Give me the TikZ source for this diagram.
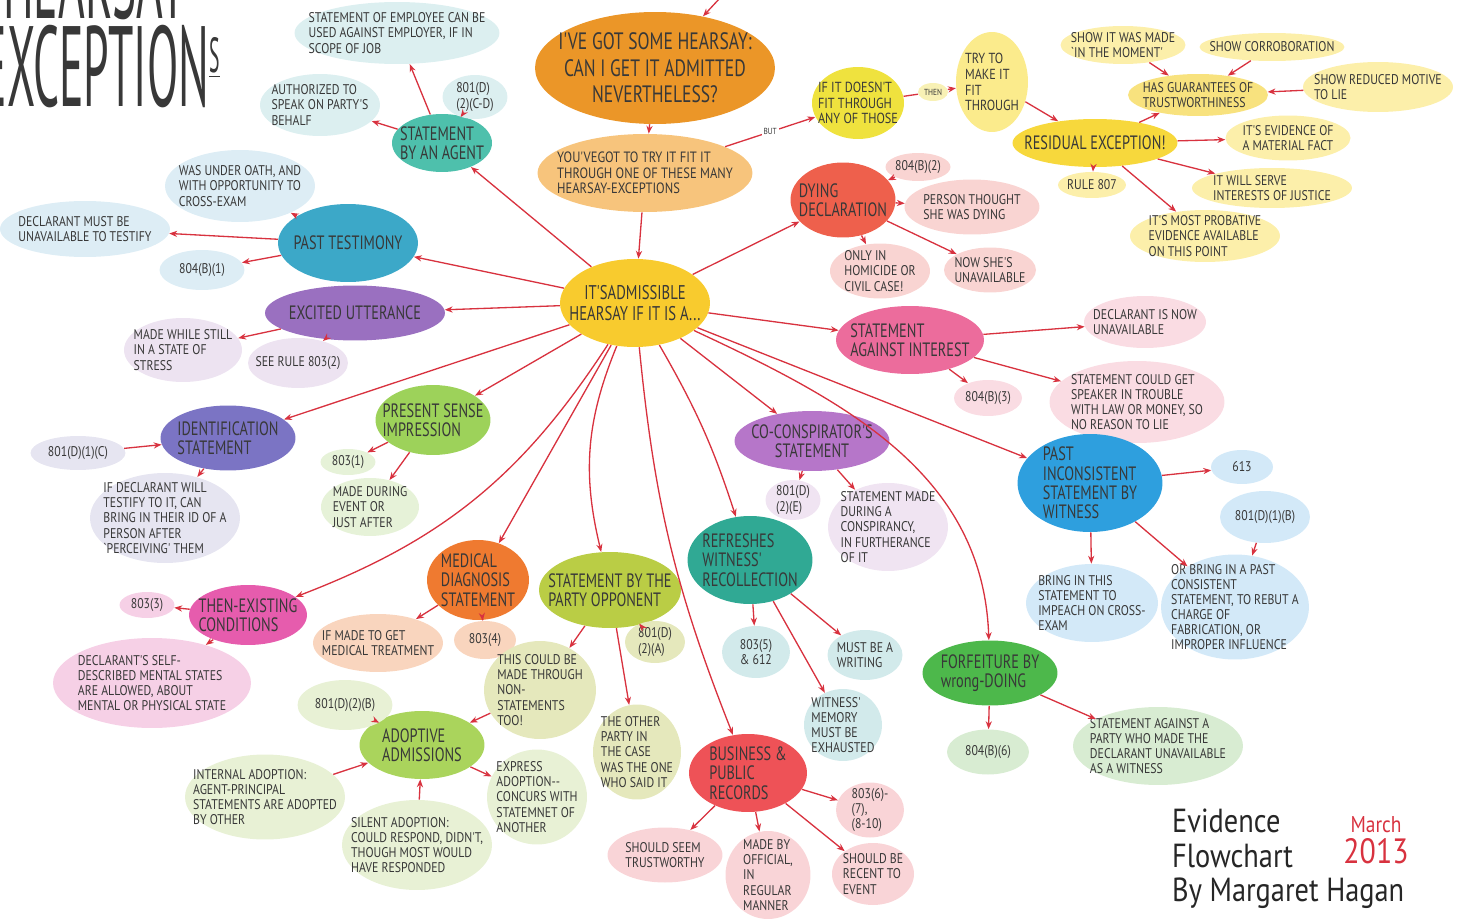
\documentclass[tikz,border=0pt]{standalone}
\usepackage{fontspec}
\newfontfamily\hand[FakeStretch=0.84]{PT Sans}
\newfontfamily\handtopic[FakeStretch=0.74]{PT Sans}
\newfontfamily\titlefont[FakeStretch=0.4]{PT Sans}
\newfontfamily\signfont[FakeStretch=0.85]{PT Sans}
\usetikzlibrary{shapes.geometric, arrows.meta}

\definecolor{EvRed}{HTML}{D8323F}
\definecolor{EvText}{HTML}{383838}
\definecolor{EvQuestion}{HTML}{EB9628}
\definecolor{EvTry}{HTML}{F7C47C}
\definecolor{EvHub}{HTML}{F8CB2E}
\definecolor{EvNoFit}{HTML}{EFE23E}
\definecolor{EvTryFit}{HTML}{FBEB8C}
\definecolor{EvThen}{HTML}{F8F1B5}
\definecolor{EvResidual}{HTML}{F7D83C}
\definecolor{EvGuarantee}{HTML}{F8E27E}
\definecolor{EvResidualNote}{HTML}{FCEFAA}
\definecolor{EvAgent}{HTML}{4EC0AC}
\definecolor{EvAgentNote}{HTML}{DCEFF0}
\definecolor{EvPast}{HTML}{3CA8C8}
\definecolor{EvPastNote}{HTML}{DDEDF5}
\definecolor{EvExcited}{HTML}{9A70C0}
\definecolor{EvExcitedNote}{HTML}{EDE3F1}
\definecolor{EvIdent}{HTML}{7B74C4}
\definecolor{EvIdentNote}{HTML}{E6E5F1}
\definecolor{EvPresent}{HTML}{9DD25A}
\definecolor{EvPresentNote}{HTML}{E6F2D8}
\definecolor{EvMedical}{HTML}{EF7A30}
\definecolor{EvMedicalNote}{HTML}{F9D5BE}
\definecolor{EvThenEx}{HTML}{E65CAD}
\definecolor{EvThenExNote}{HTML}{F6D0E6}
\definecolor{EvOpponent}{HTML}{BACD45}
\definecolor{EvOpponentNote}{HTML}{E5E8BC}
\definecolor{EvAdoptive}{HTML}{AAD45C}
\definecolor{EvAdoptiveNote}{HTML}{E8F1D5}
\definecolor{EvBusiness}{HTML}{EE5257}
\definecolor{EvBusinessNote}{HTML}{F9D4D7}
\definecolor{EvRefresh}{HTML}{30A994}
\definecolor{EvRefreshNote}{HTML}{D2EAEB}
\definecolor{EvCoCon}{HTML}{B676C9}
\definecolor{EvCoConNote}{HTML}{F0E4F2}
\definecolor{EvAgainst}{HTML}{EC6C9C}
\definecolor{EvAgainstNote}{HTML}{FADCE3}
\definecolor{EvPastInc}{HTML}{2E9FDE}
\definecolor{EvPastIncNote}{HTML}{D3E9F8}
\definecolor{EvDying}{HTML}{EE604C}
\definecolor{EvDyingNote}{HTML}{F9D4D2}
\definecolor{EvForfeit}{HTML}{4DB84B}
\definecolor{EvForfeitNote}{HTML}{D8ECD2}

\tikzset{
    % watercolour blobs, text sits in a centred label
    blob/.style={
        ellipse,
        inner sep=0pt,
        draw=none
    },
    topic text/.style={
        font=\handtopic\fontsize{11}{11}\selectfont,
        text=EvText,
        align=left,
        inner sep=0pt
    },
    note text/.style={
        font=\hand\fontsize{8}{8.6}\selectfont,
        text=EvText,
        align=left,
        inner sep=0pt
    },
    title text/.style={
        font=\titlefont\fontsize{65}{50}\selectfont,
        text=EvText,
        align=right,
        inner sep=0pt
    },
    arrow style/.style={
        -{Stealth[length=4.5pt, width=3.5pt]},
        line width=0.75pt,
        EvRed
    }
}

\begin{document}
\begin{tikzpicture}[x=0.02cm, y=0.02cm]
        \useasboundingbox (0, 0) rectangle (1461, -919);
        \clip (0, 0) rectangle (1461, -919);

        % Title (cut by the page edge)
        \node[title text, anchor=south east] (title) at (220, -108) {HEARSAY\hspace*{0.68cm}\\EXCEPTION\raisebox{19pt}{\fontsize{28}{28}\selectfont\underline{S}}};

        % Question and main route
        \node[blob, fill=EvQuestion, minimum width=4.8cm, minimum height=2.24cm,
            label={[topic text, font=\handtopic\fontsize{13.5}{15}\selectfont, align=center]center:{I'VE GOT SOME HEARSAY:\\CAN I GET IT ADMITTED\\NEVERTHELESS?}}] (question) at (655, -68) {};
        \coordinate (questionin) at (720, 2);
        \node[blob, fill=EvTry, minimum width=4.3cm, minimum height=1.56cm,
            label={[note text, font=\hand\fontsize{8.5}{8.8}\selectfont]center:{YOU'VEGOT TO TRY IT FIT IT\\THROUGH ONE OF THESE MANY\\HEARSAY-EXCEPTIONS}}] (try) at (645, -173) {};
        \node[blob, fill=EvHub, minimum width=3cm, minimum height=1.76cm,
            label={[topic text, font=\handtopic\fontsize{11.3}{12}\selectfont, align=center]center:{IT'SADMISSIBLE\\HEARSAY IF IT IS A...}}] (hub) at (635, -303) {};

        % Residual exception
        \node[blob, fill=EvNoFit, minimum width=1.84cm, minimum height=1.44cm,
            label={[note text, font=\hand\fontsize{8.3}{9}\selectfont]center:{IF IT DOESN'T\\FIT THROUGH\\ANY OF THOSE}}] (nofit) at (858, -103) {};
        \node[blob, fill=EvThen, minimum width=0.6cm, minimum height=0.36cm,
            label={[note text, font=\hand\fontsize{5}{5}\selectfont]center:THEN}] (thenlbl) at (933, -92) {};
        \node[blob, fill=EvTryFit, minimum width=1.44cm, minimum height=2cm,
            label={[note text, font=\hand\fontsize{8.3}{9}\selectfont]center:{TRY TO\\MAKE IT\\FIT\\THROUGH}}] (tryfit) at (992, -82) {};
        \node[blob, fill=EvResidual, minimum width=3.3cm, minimum height=0.96cm,
            label={[topic text]center:{RESIDUAL EXCEPTION!}}] (residual) at (1095, -143) {};
        \node[blob, fill=EvGuarantee, minimum width=2.8cm, minimum height=0.84cm,
            label={[note text]center:{HAS GUARANTEES OF\\TRUSTWORTHINESS}}] (guarantee) at (1198, -95) {};
        \node[blob, fill=EvResidualNote, minimum width=2.5cm, minimum height=0.76cm,
            label={[note text]center:{SHOW IT WAS MADE\\`IN THE MOMENT'}}] (moment) at (1123, -45) {};
        \node[blob, fill=EvResidualNote, minimum width=2.9cm, minimum height=0.56cm,
            label={[note text]center:{SHOW CORROBORATION}}] (corrob) at (1272, -47) {};
        \node[blob, fill=EvResidualNote, minimum width=3cm, minimum height=1cm,
            label={[note text]center:{SHOW REDUCED MOTIVE\\TO LIE}}] (motive) at (1378, -87) {};
        \node[blob, fill=EvResidualNote, minimum width=2.5cm, minimum height=0.9cm,
            label={[note text]center:{IT'S EVIDENCE OF\\A MATERIAL FACT}}] (material) at (1288, -138) {};
        \node[blob, fill=EvResidualNote, minimum width=3.2cm, minimum height=0.8cm,
            label={[note text]center:{IT WILL SERVE\\INTERESTS OF JUSTICE}}] (justice) at (1272, -188) {};
        \node[blob, fill=EvResidualNote, minimum width=3cm, minimum height=1.04cm,
            label={[note text]center:{IT'S MOST PROBATIVE\\EVIDENCE AVAILABLE\\ON THIS POINT}}] (probative) at (1205, -236) {};
        \node[blob, fill=EvResidualNote, minimum width=1.36cm, minimum height=0.52cm,
            label={[note text]center:{RULE 807}}] (rule807) at (1092, -185) {};

        % Statement by an agent
        \node[blob, fill=EvAgent, minimum width=2cm, minimum height=1.16cm,
            label={[topic text]center:{STATEMENT\\BY AN AGENT}}] (agent) at (442, -143) {};
        \node[blob, fill=EvAgentNote, minimum width=4.1cm, minimum height=1.24cm,
            label={[note text]center:{STATEMENT OF EMPLOYEE CAN BE\\USED AGAINST EMPLOYER, IF IN\\SCOPE OF JOB}}] (employee) at (397, -33) {};
        \node[blob, fill=EvAgentNote, minimum width=2.4cm, minimum height=1.24cm,
            label={[note text]center:{AUTHORIZED TO\\SPEAK ON PARTY'S\\BEHALF}}] (authorized) at (320, -105) {};
        \node[blob, fill=EvAgentNote, minimum width=1.3cm, minimum height=0.88cm,
            label={[note text]center:{801(D)\\(2)(C-D)}}] (agentrule) at (475, -97) {};

        % Past testimony
        \node[blob, fill=EvPast, minimum width=2.8cm, minimum height=1.56cm,
            label={[topic text]center:{PAST TESTIMONY}}] (past) at (348, -243) {};
        \node[blob, fill=EvPastNote, minimum width=3cm, minimum height=1.44cm,
            label={[note text]center:{WAS UNDER OATH, AND\\WITH OPPORTUNITY TO\\CROSS-EXAM}}] (oath) at (240, -186) {};
        \node[blob, fill=EvPastNote, minimum width=3.4cm, minimum height=1.12cm,
            label={[note text]center:{DECLARANT MUST BE\\UNAVAILABLE TO TESTIFY}}] (unavail) at (85, -229) {};
        \node[blob, fill=EvPastNote, minimum width=1.7cm, minimum height=0.8cm,
            label={[note text]center:{804(B)(1)}}] (r8041) at (202, -270) {};

        % Excited utterance
        \node[blob, fill=EvExcited, minimum width=3.6cm, minimum height=1.1cm,
            label={[topic text]center:{EXCITED UTTERANCE}}] (excited) at (355, -313) {};
        \node[blob, fill=EvExcitedNote, minimum width=2.36cm, minimum height=1.28cm,
            label={[note text]center:{MADE WHILE STILL\\IN A STATE OF\\STRESS}}] (stress) at (183, -350) {};
        \node[blob, fill=EvExcitedNote, minimum width=2cm, minimum height=1cm,
            label={[note text]center:{SEE RULE 803(2)}}] (r8032) at (298, -363) {};

        % Identification statement
        \node[blob, fill=EvIdent, minimum width=2.7cm, minimum height=1.3cm,
            label={[topic text]center:{IDENTIFICATION\\STATEMENT}}] (ident) at (228, -438) {};
        \node[blob, fill=EvIdentNote, minimum width=1.9cm, minimum height=0.68cm,
            label={[note text]center:{801(D)(1)(C)}}] (r801c) at (78, -453) {};
        \node[blob, fill=EvIdentNote, minimum width=3cm, minimum height=1.8cm,
            label={[note text]center:{IF DECLARANT WILL\\TESTIFY TO IT, CAN\\BRING IN THEIR ID OF A\\PERSON AFTER\\`PERCEIVING' THEM}}] (testify) at (165, -518) {};

        % Present sense impression
        \node[blob, fill=EvPresent, minimum width=2.3cm, minimum height=1.4cm,
            label={[topic text]center:{PRESENT SENSE\\IMPRESSION}}] (present) at (433, -420) {};
        \node[blob, fill=EvPresentNote, minimum width=1.1cm, minimum height=0.52cm,
            label={[note text]center:{803(1)}}] (r8031) at (348, -462) {};
        \node[blob, fill=EvPresentNote, minimum width=1.96cm, minimum height=1.16cm,
            label={[note text]center:{MADE DURING\\EVENT OR\\JUST AFTER}}] (during) at (370, -507) {};

        % Medical diagnosis
        \node[blob, fill=EvMedical, minimum width=2.04cm, minimum height=1.6cm,
            label={[topic text]center:{MEDICAL\\DIAGNOSIS\\STATEMENT}}] (medical) at (478, -580) {};
        \node[blob, fill=EvMedicalNote, minimum width=2.6cm, minimum height=1.16cm,
            label={[note text]center:{IF MADE TO GET\\MEDICAL TREATMENT}}] (treat) at (378, -643) {};
        \node[blob, fill=EvMedicalNote, minimum width=1.24cm, minimum height=0.76cm,
            label={[note text]center:{803(4)}}] (r8034) at (485, -640) {};

        % Then-existing conditions
        \node[blob, fill=EvThenEx, minimum width=2.36cm, minimum height=1.2cm,
            label={[topic text]center:{THEN-EXISTING\\CONDITIONS}}] (thenex) at (248, -615) {};
        \node[blob, fill=EvThenExNote, minimum width=1.1cm, minimum height=0.52cm,
            label={[note text]center:{803(3)}}] (r8033) at (147, -605) {};
        \node[blob, fill=EvThenExNote, minimum width=3.96cm, minimum height=1.8cm,
            label={[note text]center:{DECLARANT'S SELF-\\DESCRIBED MENTAL STATES\\ARE ALLOWED, ABOUT\\MENTAL OR PHYSICAL STATE}}] (selfdesc) at (152, -683) {};

        % Statement by the party opponent
        \node[blob, fill=EvOpponent, minimum width=2.84cm, minimum height=1.52cm,
            label={[topic text]center:{STATEMENT BY THE\\PARTY OPPONENT}}] (opponent) at (610, -590) {};
        \node[blob, fill=EvOpponentNote, minimum width=1.2cm, minimum height=0.84cm,
            label={[note text]center:{801(D)\\(2)(A)}}] (r801a) at (655, -642) {};
        \node[blob, fill=EvOpponentNote, minimum width=2.24cm, minimum height=1.96cm,
            label={[note text]center:{THIS COULD BE\\MADE THROUGH\\NON-\\STATEMENTS\\TOO!}}] (nonstmt) at (540, -690) {};
        \node[blob, fill=EvOpponentNote, minimum width=1.76cm, minimum height=1.9cm,
            label={[note text]center:{THE OTHER\\PARTY IN\\THE CASE\\WAS THE ONE\\WHO SAID IT}}] (other) at (637, -752) {};

        % Adoptive admissions
        \node[blob, fill=EvAdoptive, minimum width=2.5cm, minimum height=1.36cm,
            label={[topic text]center:{ADOPTIVE\\ADMISSIONS}}] (adoptive) at (422, -745) {};
        \node[blob, fill=EvAdoptiveNote, minimum width=1.9cm, minimum height=1cm,
            label={[note text]center:{801(D)(2)(B)}}] (r801b) at (345, -705) {};
        \node[blob, fill=EvAdoptiveNote, minimum width=3.2cm, minimum height=1.7cm,
            label={[note text]center:{INTERNAL ADOPTION:\\AGENT-PRINCIPAL\\STATEMENTS ARE ADOPTED\\BY OTHER}}] (internal) at (265, -797) {};
        \node[blob, fill=EvAdoptiveNote, minimum width=3cm, minimum height=1.8cm,
            label={[note text]center:{SILENT ADOPTION:\\COULD RESPOND, DIDN'T,\\THOUGH MOST WOULD\\HAVE RESPONDED}}] (silent) at (417, -845) {};
        \node[blob, fill=EvAdoptiveNote, minimum width=2cm, minimum height=1.9cm,
            label={[note text]center:{EXPRESS\\ADOPTION--\\CONCURS WITH\\STATEMNET OF\\ANOTHER}}] (express) at (537, -797) {};

        % Business and public records
        \node[blob, fill=EvBusiness, minimum width=2.36cm, minimum height=1.56cm,
            label={[topic text]center:{BUSINESS \&\\PUBLIC\\RECORDS}}] (business) at (748, -773) {};
        \node[blob, fill=EvBusinessNote, minimum width=2.3cm, minimum height=1.1cm,
            label={[note text]center:{SHOULD SEEM\\TRUSTWORTHY}}] (trust) at (665, -855) {};
        \node[blob, fill=EvBusinessNote, minimum width=1.7cm, minimum height=1.76cm,
            label={[note text]center:{MADE BY\\OFFICIAL,\\IN\\REGULAR\\MANNER}}] (official) at (768, -875) {};
        \node[blob, fill=EvBusinessNote, minimum width=1.64cm, minimum height=1.24cm,
            label={[note text]center:{SHOULD BE\\RECENT TO\\EVENT}}] (recent) at (873, -874) {};
        \node[blob, fill=EvBusinessNote, minimum width=1.36cm, minimum height=1.1cm,
            label={[note text]center:{803(6)-\\(7),\\(8-10)}}] (r8036) at (870, -810) {};

        % Refreshes witness' recollection
        \node[blob, fill=EvRefresh, minimum width=2.5cm, minimum height=1.76cm,
            label={[topic text]center:{REFRESHES\\WITNESS'\\RECOLLECTION}}] (refresh) at (750, -560) {};
        \node[blob, fill=EvRefreshNote, minimum width=1.36cm, minimum height=1.04cm,
            label={[note text]center:{803(5)\\\& 612}}] (r8035) at (756, -652) {};
        \node[blob, fill=EvRefreshNote, minimum width=1.5cm, minimum height=1cm,
            label={[note text]center:{MUST BE A\\WRITING}}] (writing) at (865, -655) {};
        \node[blob, fill=EvRefreshNote, minimum width=1.56cm, minimum height=1.44cm,
            label={[note text]center:{WITNESS'\\MEMORY\\MUST BE\\EXHAUSTED}}] (memory) at (843, -725) {};

        % Co-conspirator's statement
        \node[blob, fill=EvCoCon, minimum width=3.1cm, minimum height=1.2cm,
            label={[topic text, align=center]center:{CO-CONSPIRATOR'S\\STATEMENT}}] (cocon) at (812, -441) {};
        \node[blob, fill=EvCoConNote, minimum width=1.1cm, minimum height=0.8cm,
            label={[note text]center:{801(D)\\(2)(E)}}] (r801e) at (793, -500) {};
        \node[blob, fill=EvCoConNote, minimum width=2.4cm, minimum height=1.76cm,
            label={[note text]center:{STATEMENT MADE\\DURING A\\CONSPIRANCY,\\IN FURTHERANCE\\OF IT}}] (conspiracy) at (888, -527) {};

        % Statement against interest
        \node[blob, fill=EvAgainst, minimum width=2.96cm, minimum height=1.36cm,
            label={[topic text]center:{STATEMENT\\AGAINST INTEREST}}] (against) at (910, -340) {};
        \node[blob, fill=EvAgainstNote, minimum width=2.44cm, minimum height=1.04cm,
            label={[note text]center:{DECLARANT IS NOW\\UNAVAILABLE}}] (nowunavail) at (1145, -322) {};
        \node[blob, fill=EvAgainstNote, minimum width=3.5cm, minimum height=1.64cm,
            label={[note text]center:{STATEMENT COULD GET\\SPEAKER IN TROUBLE\\WITH LAW OR MONEY, SO\\NO REASON TO LIE}}] (trouble) at (1137, -402) {};
        \node[blob, fill=EvAgainstNote, minimum width=1.36cm, minimum height=0.72cm,
            label={[note text]center:{804(B)(3)}}] (r8043) at (988, -398) {};

        % Past inconsistent statement
        \node[blob, fill=EvPastInc, minimum width=2.9cm, minimum height=1.96cm,
            label={[topic text]center:{PAST\\INCONSISTENT\\STATEMENT BY\\WITNESS}}] (pastinc) at (1090, -483) {};
        \node[blob, fill=EvPastIncNote, minimum width=1.24cm, minimum height=0.68cm,
            label={[note text]center:{613}}] (r613) at (1242, -467) {};
        \node[blob, fill=EvPastIncNote, minimum width=1.8cm, minimum height=1.04cm,
            label={[note text]center:{801(D)(1)(B)}}] (r801b1) at (1265, -517) {};
        \node[blob, fill=EvPastIncNote, minimum width=2.64cm, minimum height=1.56cm,
            label={[note text]center:{BRING IN THIS\\STATEMENT TO\\IMPEACH ON CROSS-\\EXAM}}] (impeach) at (1092, -603) {};
        \node[blob, fill=EvPastIncNote, minimum width=2.96cm, minimum height=2.1cm,
            label={[note text]center:{OR BRING IN A PAST\\CONSISTENT\\STATEMENT, TO REBUT A\\CHARGE OF\\FABRICATION, OR\\IMPROPER INFLUENCE}}] (consist) at (1235, -607) {};

        % Dying declaration
        \node[blob, fill=EvDying, minimum width=2.1cm, minimum height=1.5cm,
            label={[topic text]center:{DYING\\DECLARATION}}] (dying) at (843, -200) {};
        \node[blob, fill=EvDyingNote, minimum width=1.3cm, minimum height=0.56cm,
            label={[note text]center:{804(B)(2)}}] (r8042) at (918, -167) {};
        \node[blob, fill=EvDyingNote, minimum width=2.7cm, minimum height=1.1cm,
            label={[note text]center:{PERSON THOUGHT\\SHE WAS DYING}}] (thought) at (972, -207) {};
        \node[blob, fill=EvDyingNote, minimum width=2cm, minimum height=1.1cm,
            label={[note text]center:{ONLY IN\\HOMICIDE OR\\CIVIL CASE!}}] (homicide) at (880, -271) {};
        \node[blob, fill=EvDyingNote, minimum width=1.84cm, minimum height=0.9cm,
            label={[note text]center:{NOW SHE'S\\UNAVAILABLE}}] (now) at (990, -270) {};

        % Forfeiture by wrong-doing
        \node[blob, fill=EvForfeit, minimum width=2.7cm, minimum height=1.3cm,
            label={[topic text]center:{FORFEITURE BY\\wrong-DOING}}] (forfeit) at (990, -673) {};
        \node[blob, fill=EvForfeitNote, minimum width=1.64cm, minimum height=0.9cm,
            label={[note text]center:{804(B)(6)}}] (r8046) at (988, -752) {};
        \node[blob, fill=EvForfeitNote, minimum width=3.4cm, minimum height=1.56cm,
            label={[note text]center:{STATEMENT AGAINST A\\PARTY WHO MADE THE\\DECLARANT UNAVAILABLE\\AS A WITNESS}}] (witness) at (1158, -746) {};

        % Signature
        \node[anchor=north west, font=\signfont\fontsize{19}{19.5}\selectfont, align=left, text=black!85] (signature) at (1166, -803) {Evidence\\Flowchart\\By Margaret Hagan};
        \node[font=\signfont, align=center, text=EvRed] (date) at (1376, -840) {{\fontsize{13}{13}\selectfont March}\\[2pt]{\fontsize{20}{20}\selectfont 2013}};

        % Arrows: main route
        \draw[arrow style] (questionin) -- (question);
        \draw[arrow style] (question) -- (try);
        \draw[arrow style] (try) -- (hub);
        \draw[arrow style] (try) -- node[fill=white, inner sep=1pt, font=\hand\fontsize{5}{5}\selectfont, text=EvText] {BUT} (nofit);
        \draw[arrow style] (nofit) -- (thenlbl) -- (tryfit);
        \draw[arrow style] (tryfit) -- (residual);
        \draw[arrow style] (residual) -- (guarantee);
        \draw[arrow style] (moment) -- (guarantee);
        \draw[arrow style] (corrob) -- (guarantee);
        \draw[arrow style] (motive) -- (guarantee);
        \draw[arrow style] (residual) -- (material);
        \draw[arrow style] (residual) -- (justice);
        \draw[arrow style] (residual) -- (probative);
        \draw[arrow style] (residual) -- (rule807);

        % Arrows: from the hub
        \draw[arrow style] (hub) -- (agent);
        \draw[arrow style] (hub) -- (past);
        \draw[arrow style] (hub) -- (excited);
        \draw[arrow style] (hub) -- (ident);
        \draw[arrow style] (hub) -- (present);
        \draw[arrow style] (hub) to[bend left=18] (thenex);
        \draw[arrow style] (hub) -- (medical);
        \draw[arrow style] (hub) to[bend right=18] (opponent);
        \draw[arrow style] (hub) to[bend right=8] (business);
        \draw[arrow style] (hub) to[bend left=6] (refresh);
        \draw[arrow style] (hub) -- (cocon);
        \draw[arrow style] (hub) -- (against);
        \draw[arrow style] (hub) -- (pastinc);
        \draw[arrow style] (hub) -- (dying);
        \draw[arrow style] (hub) to[out=-25, in=92] (forfeit);

        % Arrows: details
        \draw[arrow style] (agent) -- (employee);
        \draw[arrow style] (agent) -- (authorized);
        \draw[arrow style] (agent) -- (agentrule);
        \draw[arrow style] (past) -- (oath);
        \draw[arrow style] (past) -- (unavail);
        \draw[arrow style] (past) -- (r8041);
        \draw[arrow style] (excited) -- (stress);
        \draw[arrow style] (excited) -- (r8032);
        \draw[arrow style] (r801c) -- (ident);
        \draw[arrow style] (ident) -- (testify);
        \draw[arrow style] (present) -- (r8031);
        \draw[arrow style] (present) -- (during);
        \draw[arrow style] (medical) -- (treat);
        \draw[arrow style] (medical) -- (r8034);
        \draw[arrow style] (thenex) -- (r8033);
        \draw[arrow style] (thenex) -- (selfdesc);
        \draw[arrow style] (opponent) -- (r801a);
        \draw[arrow style] (opponent) -- (nonstmt);
        \draw[arrow style] (opponent) -- (other);
        \draw[arrow style] (nonstmt) -- (adoptive);
        \draw[arrow style] (adoptive) -- (r801b);
        \draw[arrow style] (internal) -- (adoptive);
        \draw[arrow style] (silent) -- (adoptive);
        \draw[arrow style] (adoptive) -- (express);
        \draw[arrow style] (business) -- (trust);
        \draw[arrow style] (business) -- (official);
        \draw[arrow style] (business) -- (recent);
        \draw[arrow style] (business) -- (r8036);
        \draw[arrow style] (refresh) -- (r8035);
        \draw[arrow style] (refresh) -- (writing);
        \draw[arrow style] (refresh) -- (memory);
        \draw[arrow style] (cocon) -- (r801e);
        \draw[arrow style] (cocon) -- (conspiracy);
        \draw[arrow style] (against) -- (nowunavail);
        \draw[arrow style] (against) -- (trouble);
        \draw[arrow style] (against) -- (r8043);
        \draw[arrow style] (pastinc) -- (r613);
        \draw[arrow style] (r801b1) -- (consist);
        \draw[arrow style] (pastinc) -- (impeach);
        \draw[arrow style] (pastinc) -- (consist);
        \draw[arrow style] (r8042) -- (dying);
        \draw[arrow style] (dying) -- (thought);
        \draw[arrow style] (dying) -- (homicide);
        \draw[arrow style] (dying) -- (now);
        \draw[arrow style] (forfeit) -- (r8046);
        \draw[arrow style] (forfeit) -- (witness);
    \end{tikzpicture}
\end{document}
